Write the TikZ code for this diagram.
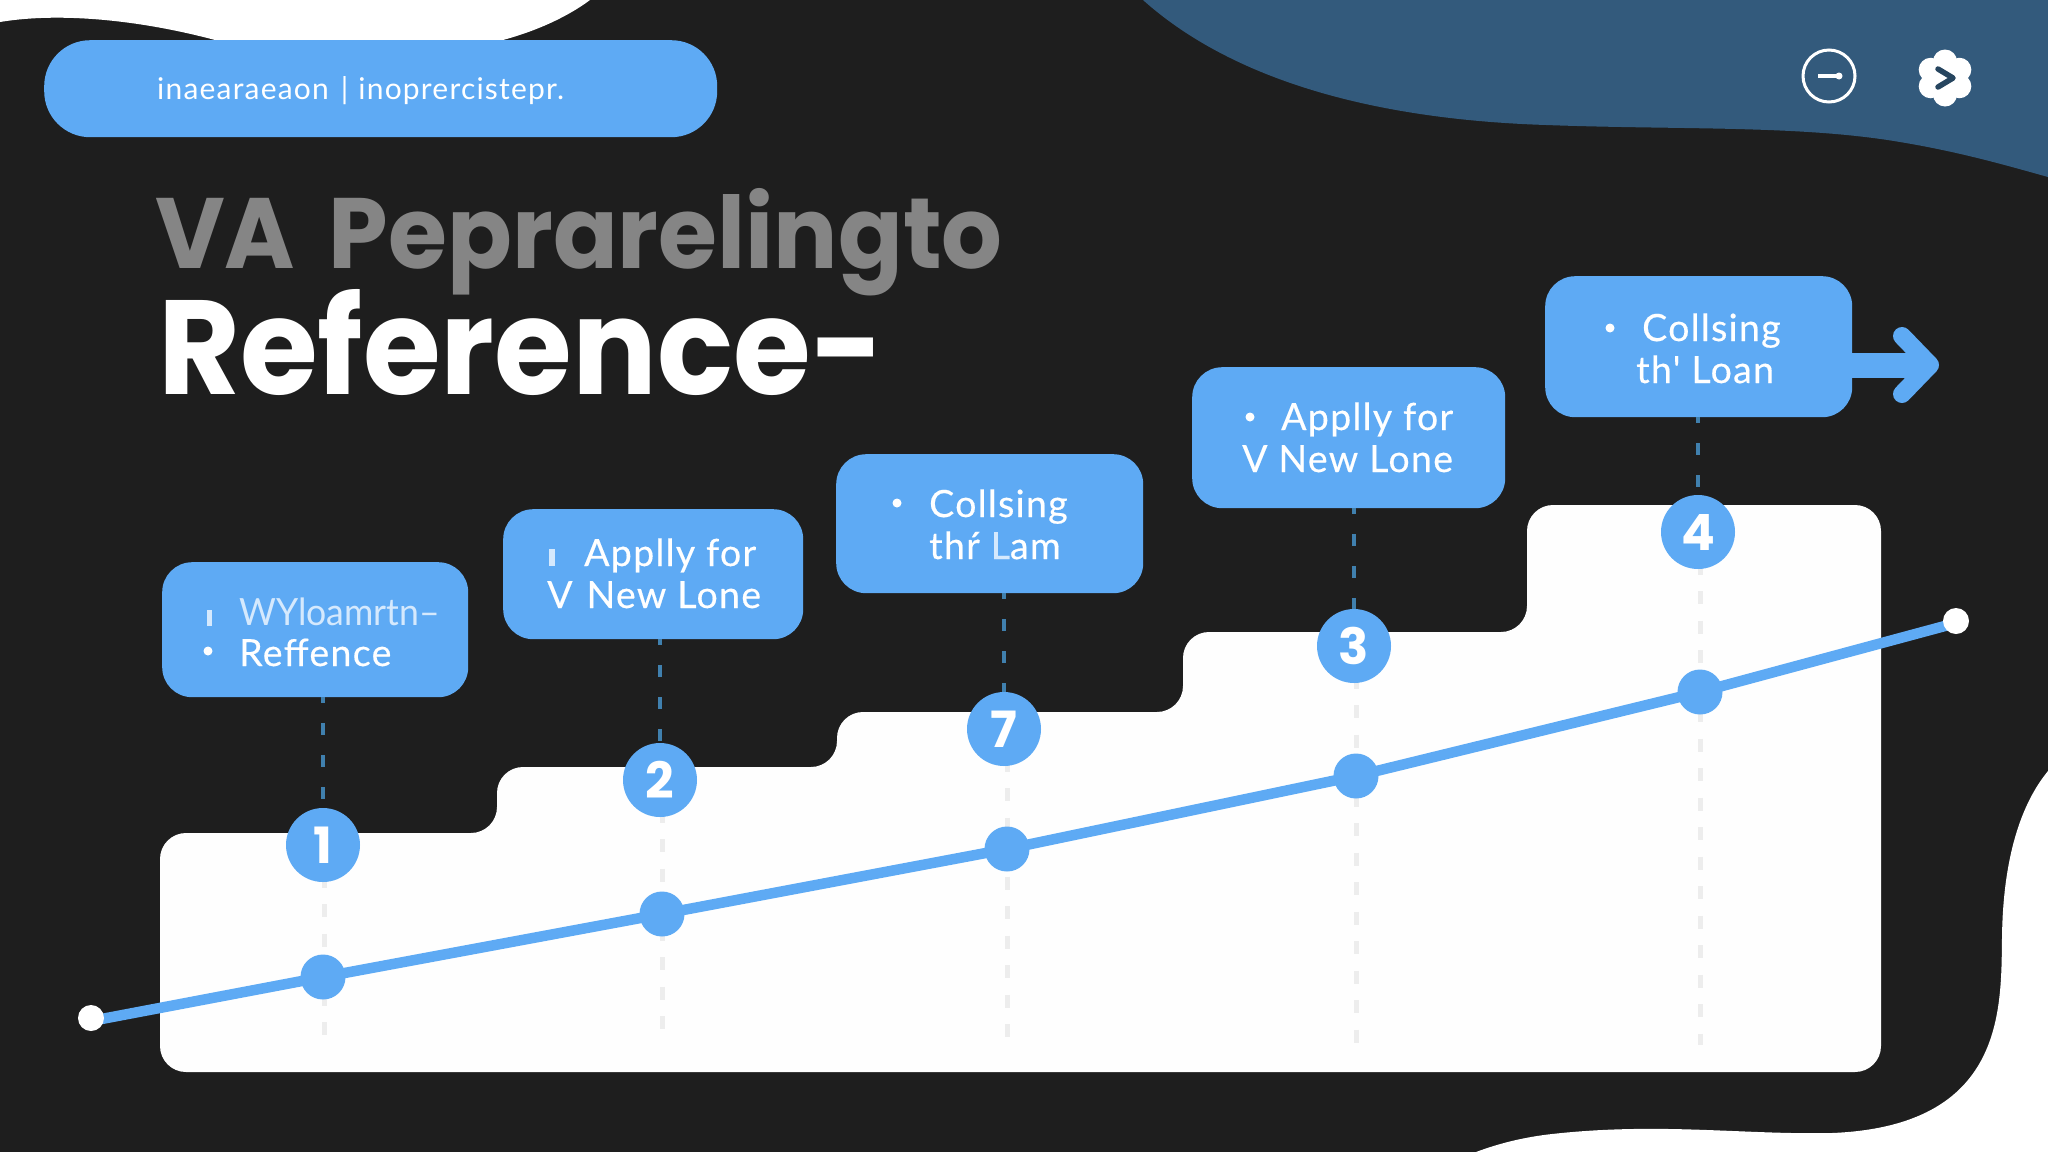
\documentclass[tikz,border=0pt]{standalone}
\usepackage{fontspec}
\setmainfont{Lato}
\newfontfamily\titlefont{Poppins}[BoldFont=Poppins Bold]
\newfontfamily\boxfont{Lato}[FakeBold=0.4,LetterSpace=3.5]
\newfontfamily\thinfont{Lato}
\newfontfamily\pillfont{Lato}[LetterSpace=4]
\usetikzlibrary{calc}
\definecolor{skyb}{HTML}{5EAAF4}
\definecolor{darkbg}{HTML}{1E1E1E}
\definecolor{topblue}{HTML}{335A7C}
\definecolor{chevb}{HTML}{26455F}
\definecolor{dashb}{HTML}{4080AE}
\definecolor{dashg}{HTML}{EDEDED}
\definecolor{titleg}{HTML}{858585}
\definecolor{panelw}{HTML}{FEFEFE}
\definecolor{fadew}{HTML}{D5E9FD}
\tikzset{
  infobox/.style={fill=skyb,rounded corners=30pt,inner sep=0pt,anchor=north west},
  numc/.style={circle,fill=skyb,text=white,minimum size=74pt,inner sep=0pt,font=\titlefont\bfseries\fontsize{50}{50}\selectfont},
  dotc/.style={circle,fill=skyb,minimum size=45pt,inner sep=0pt},
  endc/.style={circle,fill=white,minimum size=26pt,inner sep=0pt},
  btext/.style={anchor=base west,inner sep=0pt,text=white,font=\boxfont\fontsize{37.5}{37.5}\selectfont},
  bull/.style={circle,fill=white,minimum size=9pt,inner sep=0pt},
  updash/.style={draw=dashb,line width=4pt,dash pattern=on 12pt off 20pt,dash phase=6pt},
  lowdash/.style={draw=dashg,line width=5pt,dash pattern=on 13pt off 16.5pt},
  trend/.style={draw=skyb,line width=10.5pt}
}
\begin{document}
\begin{tikzpicture}[x=1pt,y=-1pt]
\useasboundingbox (0,0) rectangle (2048,1152);
\fill[darkbg] (0,0) rectangle (2048,1152);
% background shapes
\fill[white] (0,22) .. controls (60,12) and (140,20) .. (215,40) -- (503,40) .. controls (540,30) and (570,15) .. (590,0) -- (0,0) -- cycle;
\fill[topblue] (1143,0) .. controls (1210,60) and (1330,118) .. (1546,125) .. controls (1680,130) and (1800,125) .. (1900,142) .. controls (1960,152) and (2005,165) .. (2048,177) -- (2048,0) -- cycle;
\fill[white] (2048,771) .. controls (2020,805) and (2003,860) .. (2002,937) .. controls (2001,1010) and (2005,1126) .. (1832,1133) .. controls (1745,1135) and (1660,1122) .. (1552,1134) .. controls (1525,1137) and (1500,1143) .. (1476,1152) -- (2048,1152) -- cycle;
% stepped panel
\fill[panelw,rounded corners=26pt] (160,1072) -- (160,833) -- (497,833) -- (497,767) -- (837,767) -- (837,712) -- (1183,712) -- (1183,632) -- (1527,632) -- (1527,505) -- (1881,505) -- (1881,1072) -- cycle;
% nodes
\node[infobox,minimum width=306pt,minimum height=135pt] (b1) at (162,562) {};
\node[infobox,minimum width=300pt,minimum height=130pt] (b2) at (503,509) {};
\node[infobox,minimum width=307pt,minimum height=139pt] (b3) at (836,454) {};
\node[infobox,minimum width=313pt,minimum height=141pt] (b4) at (1192,367) {};
\coordinate (tip) at (1930,365);
\node[infobox,minimum width=307pt,minimum height=141pt] (b5) at (1545,276) {};
\draw[skyb,line width=25pt] (b5.east |- tip) -- (1922,365);
\draw[skyb,line width=18pt,line cap=round,line join=round] (1902,336) -- (tip) -- (1902,394);
\coordinate (l1) at (324,1045);
\coordinate (l2) at (662,1045);
\coordinate (l3) at (1007,1045);
\coordinate (l4) at (1356,1045);
\coordinate (l5) at (1700,1045);
\coordinate (a1) at (323,845);
\coordinate (a2) at (660,780);
\coordinate (a3) at (1004,729);
\coordinate (a4) at (1354,646);
\coordinate (a5) at (1698,532);
% connectors, under the circles
\draw[lowdash] (a1 -| l1) -- (l1);
\draw[lowdash] (a2 -| l2) -- (l2);
\draw[lowdash] (a3 -| l3) -- (l3);
\draw[lowdash] (a4 -| l4) -- (l4);
\draw[lowdash] (a5 -| l5) -- (l5);
\draw[updash] (a1 |- b1.south) -- (a1);
\draw[updash] (a2 |- b2.south) -- (a2);
\draw[updash] (a3 |- b3.south) -- (a3);
\draw[updash] (a4 |- b4.south) -- (a4);
\draw[updash] (a5 |- b5.south) -- (a5);
\coordinate (c0) at (91,1021);
\coordinate (c1) at (323,977);
\coordinate (c2) at (662,914);
\coordinate (c3) at (1007,849);
\coordinate (c4) at (1356,776);
\coordinate (c5) at (1700,692);
\coordinate (c6) at (1956,623);
\draw[trend] (c0) -- (c1) -- (c2) -- (c3) -- (c4) -- (c5) -- (c6);
\node[dotc] (d1) at (c1) {};
\node[dotc] (d2) at (c2) {};
\node[dotc] (d3) at (c3) {};
\node[dotc] (d4) at (c4) {};
\node[dotc] (d5) at (c5) {};
\node[endc] (e0) at (91,1018) {};
\node[endc] (e1) at (1956,621) {};
\node[numc] (n1) at (a1) {1};
\node[numc] (n2) at (a2) {2};
\node[numc] (n3) at (a3) {7};
\node[numc] (n4) at (a4) {3};
\node[numc] (n5) at (a5) {4};
% pill
\node[fill=skyb,rounded corners=46pt,minimum width=673pt,minimum height=97pt,inner sep=0pt,anchor=north west] (pill) at (44,40) {};
\node[anchor=base west,inner sep=0pt,text=white,font=\pillfont\fontsize{30}{30}\selectfont] (pt) at (157,99) {inaearaeaon\hspace{12pt}|\hspace{10pt}inoprercistepr.};
% title
\node[anchor=base west,inner sep=0pt,text=titleg,font=\titlefont\bfseries\fontsize{100}{100}\selectfont] (t1) at (155,268) {\scalebox{0.955}[1]{VA\hspace{14pt} Peprarelingto}};
\node[anchor=base west,inner sep=0pt,text=white,font=\titlefont\bfseries\fontsize{134}{134}\selectfont] (t2) at (158,394) {\scalebox{0.94}[1]{Reference-}};
% box texts
\node[btext,text=fadew,font=\thinfont\fontsize{37.5}{37.5}\selectfont] (x11) at (239,625) {\scalebox{0.95}[1]{WYloamrtn–}};
\node[btext] (x12) at (239,666) {Reffence};
\node[fill=fadew,minimum width=5pt,minimum height=16pt,inner sep=0pt] (bp1) at (209,618) {};
\node[bull] (bp2) at (208,651) {};
\node[fill=fadew,minimum width=6pt,minimum height=17pt,inner sep=0pt] (bp3) at (552,557) {};
\node[btext] (x21) at (584,566) {Applly for};
\node[btext] (x22) at (547,608) {V\hspace{14pt}New Lone};
\node[bull] (bp4) at (897,503) {};
\node[btext] (x31) at (929,517) {Collsing};
\node[btext] (x32) at (929,559) {thŕ \textcolor{fadew}{L}am};
\node[bull] (bp5) at (1250,417) {};
\node[btext] (x41) at (1281,430) {Applly for};
\node[btext] (x42) at (1242,472) {V New Lone};
\node[bull] (bp6) at (1610,328) {};
\node[btext] (x51) at (1642,341) {Collsing};
\node[btext] (x52) at (1636,383) {th' Loan};
% icons
\node[circle,draw=white,line width=3pt,minimum size=52pt,inner sep=0pt] (ic1) at (1829,76) {};
\coordinate (ic1a) at (1818,76);
\coordinate (ic1b) at (1839,76);
\draw[white,line width=3.5pt] (ic1a) -- (ic1b);
\fill[white] (ic1b) circle (3.5pt);
\coordinate (ic2) at (1945,78);
\fill[white] (ic2) circle (16pt);
\foreach \a in {90,150,210,270,330,30}
  \fill[white] ($(ic2)+(\a:16.5pt)$) circle (12pt);
\draw[chevb,line width=5.5pt,line cap=round,line join=round] (1938,69) -- (1953,78) -- (1938,87);
\end{tikzpicture}
\end{document}
